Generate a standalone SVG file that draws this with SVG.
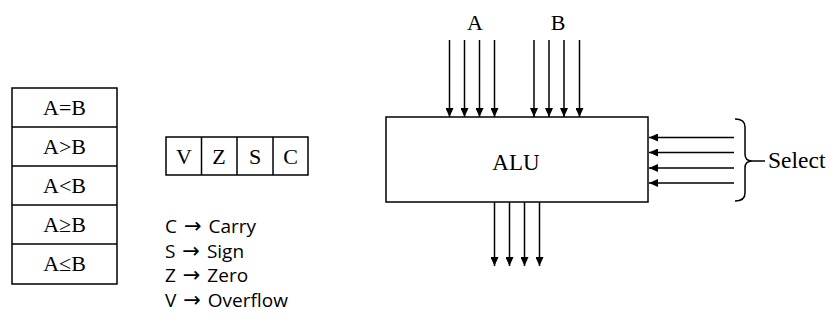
<svg xmlns="http://www.w3.org/2000/svg" width="830" height="320" viewBox="0 0 830 320">
<style>
.box{fill:#fff;stroke:#000;stroke-width:1.5}
.ln{stroke:#000;stroke-width:1.5;fill:none}
.t{font-family:"Liberation Serif","Times New Roman",serif;fill:#000;text-anchor:middle}
.s{font-family:"Open Sans","Liberation Sans",sans-serif;font-size:19px;fill:#000;word-spacing:2px}
.ar{font-family:"DejaVu Sans",sans-serif;font-size:21px}
</style>
<defs>
<marker id="ah" markerUnits="userSpaceOnUse" markerWidth="9" markerHeight="8" refX="9" refY="4" orient="auto">
<path d="M0,0 L9,4 L0,8 z" fill="#000"/>
</marker>
</defs>
<rect width="830" height="320" fill="#fff"/>
<g id="compare-table">
<rect class="box" x="12" y="88" width="105" height="196"/>
<line class="ln" x1="12" y1="127" x2="117" y2="127"/>
<line class="ln" x1="12" y1="166" x2="117" y2="166"/>
<line class="ln" x1="12" y1="205" x2="117" y2="205"/>
<line class="ln" x1="12" y1="244" x2="117" y2="244"/>
<text class="t" x="64.5" y="115" font-size="22">A=B</text>
<text class="t" x="64.5" y="154" font-size="22">A&gt;B</text>
<text class="t" x="64.5" y="193" font-size="22">A&lt;B</text>
<text class="t" x="64.5" y="232" font-size="22">A≥B</text>
<text class="t" x="64.5" y="271" font-size="22">A≤B</text>
</g>
<g id="flags">
<rect class="box" x="166" y="137" width="142" height="38"/>
<line class="ln" x1="201.5" y1="137" x2="201.5" y2="175"/>
<line class="ln" x1="237" y1="137" x2="237" y2="175"/>
<line class="ln" x1="273" y1="137" x2="273" y2="175"/>
<text class="t" x="184" y="164" font-size="22">V</text>
<text class="t" x="219" y="164" font-size="22">Z</text>
<text class="t" x="255" y="164" font-size="22">S</text>
<text class="t" x="290.5" y="164" font-size="22">C</text>
</g>
<g id="legend">
<text class="s" x="165" y="233">C <tspan class="ar">→</tspan> Carry</text>
<text class="s" x="165" y="257.5">S <tspan class="ar">→</tspan> Sign</text>
<text class="s" x="165" y="282">Z <tspan class="ar">→</tspan> Zero</text>
<text class="s" x="165" y="306.5">V <tspan class="ar">→</tspan> Overflow</text>
</g>
<g id="alu">
<rect class="box" x="386" y="117" width="262" height="85"/>
<text class="t" x="516" y="170" font-size="23">ALU</text>
</g>
<g id="labels">
<text class="t" x="475" y="30" font-size="22">A</text>
<text class="t" x="558" y="30" font-size="22">B</text>
<text x="768" y="168" font-family="Liberation Serif, Times New Roman, serif" font-size="23.5" fill="#000">Select</text>
</g>
<g id="connectors">
<line class="ln" x1="449.5" y1="40" x2="449.5" y2="117" marker-end="url(#ah)"/>
<line class="ln" x1="464.5" y1="40" x2="464.5" y2="117" marker-end="url(#ah)"/>
<line class="ln" x1="479.5" y1="40" x2="479.5" y2="117" marker-end="url(#ah)"/>
<line class="ln" x1="494.5" y1="40" x2="494.5" y2="117" marker-end="url(#ah)"/>
<line class="ln" x1="534" y1="40" x2="534" y2="117" marker-end="url(#ah)"/>
<line class="ln" x1="549" y1="40" x2="549" y2="117" marker-end="url(#ah)"/>
<line class="ln" x1="564" y1="40" x2="564" y2="117" marker-end="url(#ah)"/>
<line class="ln" x1="579.5" y1="40" x2="579.5" y2="117" marker-end="url(#ah)"/>
<line class="ln" x1="494.5" y1="202" x2="494.5" y2="266" marker-end="url(#ah)"/>
<line class="ln" x1="509.5" y1="202" x2="509.5" y2="266" marker-end="url(#ah)"/>
<line class="ln" x1="524.5" y1="202" x2="524.5" y2="266" marker-end="url(#ah)"/>
<line class="ln" x1="539.5" y1="202" x2="539.5" y2="266" marker-end="url(#ah)"/>
<line class="ln" x1="734" y1="137.5" x2="649" y2="137.5" marker-end="url(#ah)"/>
<line class="ln" x1="734" y1="152.5" x2="649" y2="152.5" marker-end="url(#ah)"/>
<line class="ln" x1="734" y1="168" x2="649" y2="168" marker-end="url(#ah)"/>
<line class="ln" x1="734" y1="183" x2="649" y2="183" marker-end="url(#ah)"/>
<path class="ln" d="M735,119 Q745,119 745,127 L745,154 Q745,161 752,161 Q745,161 745,168 L745,193 Q745,201 735,201"/>
<line class="ln" x1="752" y1="161" x2="765" y2="161"/>
</g>
</svg>
